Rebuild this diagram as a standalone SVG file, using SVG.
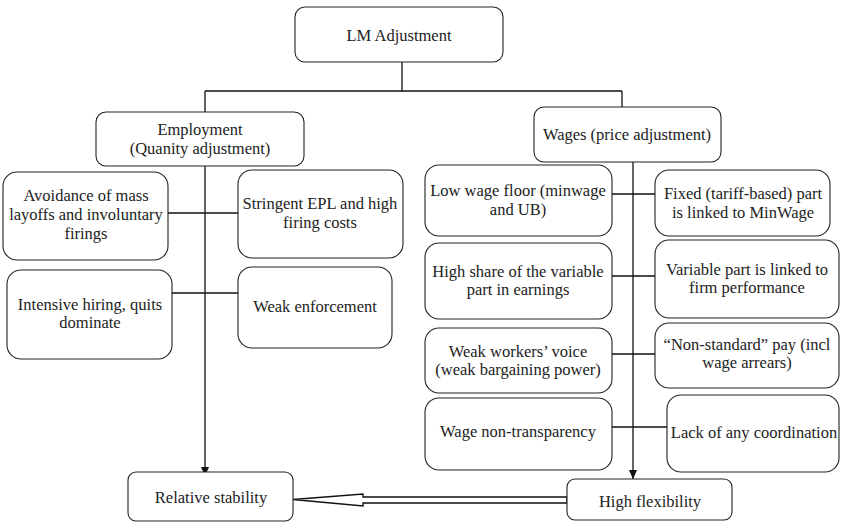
<svg xmlns="http://www.w3.org/2000/svg" width="841" height="522" viewBox="0 0 841 522">
<defs>
<style>
.box{fill:#fff;stroke:#222;stroke-width:1.1}
.t{font-size:16.5px;fill:#222;text-anchor:middle}
.c{fill:none;stroke:#111;stroke-width:1.3}
</style>
<marker id="ah" markerWidth="9" markerHeight="8" refX="9" refY="4" orient="auto" markerUnits="userSpaceOnUse" viewBox="0 0 9 8">
<path d="M0,0 L9,4 L0,8 Z" fill="#111"/>
</marker>
</defs>
<rect width="841" height="522" fill="#fff"/>
<g id="connectors">
<path class="c" d="M402,62 V91 M205,91 H622 M205,91 V112 M622,91 V107"/>
<path class="c" d="M205,166 V476" marker-end="url(#ah)"/>
<path class="c" d="M633,162 V479" marker-end="url(#ah)"/>
<path class="c" d="M168,213 H238 M172,293 H238"/>
<path class="c" d="M612,194 H655 M612,276 H655 M612,354 H655 M612,427 H667"/>
<path d="M293,499.5 L363,494 L363,497 L567,497 L567,503 L363,503 L363,506 Z" fill="#fff" stroke="#111" stroke-width="1.4" stroke-linejoin="miter"/>
</g>
<g font-family="'Liberation Serif', Tinos, 'Times New Roman', 'DejaVu Serif', serif">
<g id="lm"><rect class="box" x="295" y="7" width="208" height="55" rx="10"/><text class="t" x="399" y="41">LM Adjustment</text></g>
<g id="employment"><rect class="box" x="96" y="112" width="208" height="54" rx="10"/><text class="t" x="200" y="135">Employment</text><text class="t" x="200" y="154">(Quanity adjustment)</text></g>
<g id="wages"><rect class="box" x="534" y="107" width="187" height="55" rx="10"/><text class="t" x="627" y="140">Wages (price adjustment)</text></g>
<g id="avoidance"><rect class="box" x="3" y="172" width="165" height="88" rx="14"/><text class="t" x="86" y="201">Avoidance of mass</text><text class="t" x="86" y="220">layoffs and involuntary</text><text class="t" x="86" y="239">firings</text></g>
<g id="stringent"><rect class="box" x="238" y="170" width="165" height="88" rx="14"/><text class="t" x="320" y="209">Stringent EPL and high</text><text class="t" x="320" y="228">firing costs</text></g>
<g id="intensive"><rect class="box" x="7" y="270" width="165" height="89" rx="14"/><text class="t" x="90" y="310">Intensive hiring, quits</text><text class="t" x="90" y="328">dominate</text></g>
<g id="weakenf"><rect class="box" x="238" y="267" width="154" height="81" rx="14"/><text class="t" x="315" y="312">Weak enforcement</text></g>
<g id="relstab"><rect class="box" x="128" y="472" width="165" height="49" rx="8"/><text class="t" x="211" y="503">Relative stability</text></g>
<g id="lowwage"><rect class="box" x="425" y="165" width="187" height="71" rx="14"/><text class="t" x="518" y="196">Low wage floor (minwage</text><text class="t" x="518" y="215">and UB)</text></g>
<g id="fixed"><rect class="box" x="655" y="170" width="175" height="66" rx="14"/><text class="t" x="743" y="199">Fixed (tariff-based) part</text><text class="t" x="743" y="218">is linked to MinWage</text></g>
<g id="highshare"><rect class="box" x="425" y="243" width="187" height="76" rx="14"/><text class="t" x="518" y="277">High share of the variable</text><text class="t" x="518" y="295">part in earnings</text></g>
<g id="variable"><rect class="box" x="655" y="240" width="184" height="78" rx="14"/><text class="t" x="747" y="275">Variable part is linked to</text><text class="t" x="747" y="293">firm performance</text></g>
<g id="voice"><rect class="box" x="425" y="328" width="187" height="65" rx="14"/><text class="t" x="518" y="357">Weak workers’ voice</text><text class="t" x="518" y="375">(weak bargaining power)</text></g>
<g id="nonstd"><rect class="box" x="655" y="323" width="184" height="65" rx="14"/><text class="t" x="747" y="350">“Non-standard” pay (incl</text><text class="t" x="747" y="368">wage arrears)</text></g>
<g id="transp"><rect class="box" x="425" y="398" width="187" height="72" rx="14"/><text class="t" x="518" y="437">Wage non-transparency</text></g>
<g id="coord"><rect class="box" x="667" y="395" width="172" height="77" rx="14"/><text class="t" x="754" y="438">Lack of any coordination</text></g>
<g id="highflex"><rect class="box" x="567" y="479" width="165" height="41" rx="8"/><text class="t" x="650" y="507">High flexibility</text></g>
</g>
</svg>
